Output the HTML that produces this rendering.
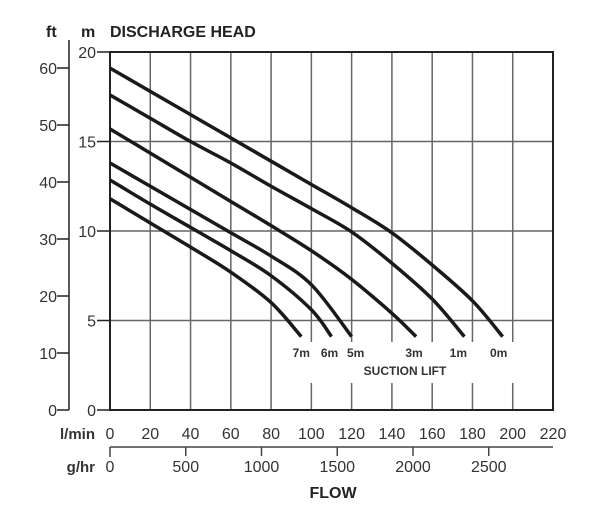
<!DOCTYPE html>
<html><head><meta charset="utf-8"><style>
body{margin:0;background:#fff}
svg{display:block;font-family:"Liberation Sans",Arial,sans-serif}
</style></head><body>
<svg width="600" height="514" viewBox="0 0 600 514" id="chart"></svg>
<script>
const xTicks=[0,20,40,60,80,100,120,140,160,180,200,220];
const mTicks=[0,5,10,15,20];
const ftTicks=[0,10,20,30,40,50,60];
const ghTicks=[0,500,1000,1500,2000,2500];
const seriesNames=["0m","1m","3m","5m","6m","7m"];
const flow0=[0,20,40,60,80,100,120,140,160,180,195];
const head0=[19.1,17.8,16.5,15.2,13.9,12.6,11.3,9.9,8.1,6.1,4.1];
const flow1=[0,20,40,60,80,100,120,140,160,176];
const head1=[17.6,16.3,15.0,13.8,12.5,11.25,9.95,8.2,6.2,4.1];
const flow3=[0,20,40,60,80,100,120,140,152];
const head3=[15.7,14.35,13.0,11.65,10.3,8.9,7.3,5.4,4.1];
const flow5=[0,20,40,60,80,100,120];
const head5=[13.8,12.5,11.2,9.9,8.6,7.0,4.1];
const flow6=[0,20,40,60,80,100,110];
const head6=[12.85,11.5,10.2,8.9,7.5,5.6,4.1];
const flow7=[0,20,40,60,80,95];
const head7=[11.8,10.45,9.1,7.7,6.0,4.1];
const labelFlow=[193,173,151,122,109,95];

const svg=document.getElementById('chart');
const NS='http://www.w3.org/2000/svg';
const X=v=>110+v*(443/220);
const Y=m=>410-m*17.9;
const FT=f=>410-f*5.7;
const GH=g=>110+g*0.1515;
function el(tag,attrs,txt){const e=document.createElementNS(NS,tag);for(const k in attrs)e.setAttribute(k,attrs[k]);if(txt!==undefined)e.textContent=txt;svg.appendChild(e);return e;}

mTicks.forEach(m=>{if(m>0&&m<20){const l=el('line',{x1:110,x2:553,y1:Y(m),y2:Y(m),stroke:'#666','stroke-width':1.5});

}});
xTicks.forEach(v=>{if(v>0&&v<220){
 if(v>=100){
  const a=el('line',{x1:X(v),x2:X(v),y1:52,y2:342,stroke:'#666','stroke-width':1.5});
  
  
  const b=el('line',{x1:X(v),x2:X(v),y1:383,y2:410,stroke:'#666','stroke-width':1.5});
  
  
 } else {
  const a=el('line',{x1:X(v),x2:X(v),y1:52,y2:410,stroke:'#666','stroke-width':1.5});
  
  
 }}});
const fr=el('rect',{x:110,y:52,width:443,height:358,fill:'none',stroke:'#222','stroke-width':2});



mTicks.forEach(m=>{
 const t=el('line',{x1:97,x2:110,y1:Y(m),y2:Y(m),stroke:'#222','stroke-width':1.5});
 
 
 const tx=el('text',{x:96,y:Y(m)+6,'text-anchor':'end','font-size':16,fill:'#333'},String(m));
 
 
});
const fa=el('line',{x1:69,x2:69,y1:40,y2:410,stroke:'#222','stroke-width':1.5});


ftTicks.forEach(f=>{
 const t=el('line',{x1:57,x2:69,y1:FT(f),y2:FT(f),stroke:'#222','stroke-width':1.5});
 
 
 const tx=el('text',{x:57,y:FT(f)+6,'text-anchor':'end','font-size':16,fill:'#333'},String(f));
 
 
});
xTicks.forEach(v=>{
 const tx=el('text',{x:X(v),y:439,'text-anchor':'middle','font-size':16,fill:'#333'},String(v));
 
 
});
const lm=el('text',{x:95,y:439,'text-anchor':'end','font-size':15,'font-weight':'bold',fill:'#333'},'l/min');


const ga=el('line',{x1:110,x2:553,y1:447,y2:447,stroke:'#444','stroke-width':1.5});


ghTicks.forEach(g=>{
 const t=el('line',{x1:GH(g),x2:GH(g),y1:g===0?447:447,y2:g===0?457:456,stroke:'#444','stroke-width':1.5});
 
 
 const tx=el('text',{x:GH(g),y:472,'text-anchor':'middle','font-size':16,fill:'#333'},String(g));
 
 
});
const gh=el('text',{x:95,y:472,'text-anchor':'end','font-size':15,'font-weight':'bold',fill:'#333'},'g/hr');


const fl=el('text',{x:333,y:498,'text-anchor':'middle','font-size':16,'font-weight':'bold',fill:'#222'},'FLOW');


const t1=el('text',{x:46,y:37,'font-size':16,'font-weight':'bold',fill:'#222'},'ft');


const t2=el('text',{x:81,y:37,'font-size':16,'font-weight':'bold',fill:'#222'},'m');


const t3=el('text',{x:110,y:37,'font-size':16,'font-weight':'bold',fill:'#222'},'DISCHARGE HEAD');



const flows=[flow0,flow1,flow3,flow5,flow6,flow7];
const heads=[head0,head1,head3,head5,head6,head7];
function smooth(pts){let d='M'+pts[0][0]+','+pts[0][1];
 for(let i=0;i<pts.length-1;i++){const p0=pts[i-1]||pts[i],p1=pts[i],p2=pts[i+1],p3=pts[i+2]||p2;
 const c1=[p1[0]+(p2[0]-p0[0])/6,p1[1]+(p2[1]-p0[1])/6],c2=[p2[0]-(p3[0]-p1[0])/6,p2[1]-(p3[1]-p1[1])/6];
 d+=' C'+c1[0]+','+c1[1]+' '+c2[0]+','+c2[1]+' '+p2[0]+','+p2[1];}return d;}
flows.forEach((f,i)=>{
 const pts=f.map((v,j)=>[X(v),Y(heads[i][j])]);
 const p=el('path',{d:smooth(pts),fill:'none',stroke:'#1a1a1a','stroke-width':3.5,'stroke-linejoin':'round'});
 
 
 const tx=el('text',{x:X(labelFlow[i]),y:357,'text-anchor':'middle','font-size':12,'font-weight':'bold',fill:'#333'},seriesNames[i]);
 
 
});
const sl=el('text',{x:405,y:375,'text-anchor':'middle','font-size':12,'font-weight':'bold',fill:'#333'},'SUCTION LIFT');


</script>
</body></html>
